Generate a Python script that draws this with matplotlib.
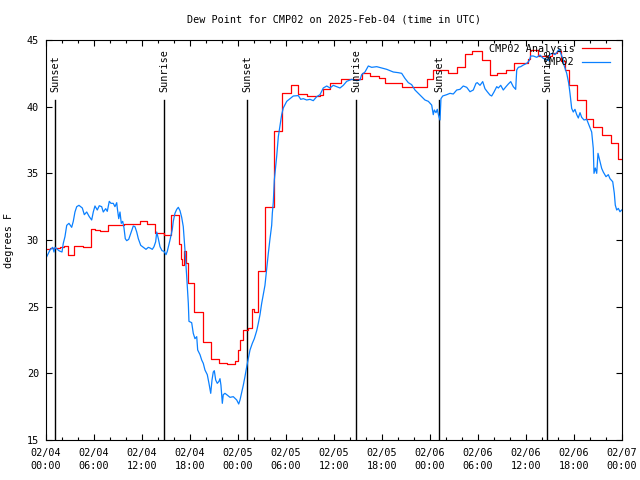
import numpy as np
import matplotlib
matplotlib.use('Agg')
import matplotlib.pyplot as plt

# hours since 02/04 00:00 UTC
analysis_hours = [0.0, 0.5, 1.7, 2.2, 2.7, 3.5, 4.6, 5.6, 6.1, 6.7, 7.7, 9.7, 11.7,
                  12.6, 13.6, 14.7, 15.58, 16.6, 16.9, 17.05, 17.3, 17.55, 17.8,
                  18.53, 19.58, 20.58, 21.58, 22.58, 23.62, 24.0, 24.25, 24.6,
                  25.2, 25.71, 26.0, 26.54, 27.42, 28.5, 29.54, 30.59, 31.54,
                  32.62, 34.25, 34.66, 35.5, 36.84, 39.46, 40.5, 41.66, 42.38,
                  44.46, 46.34, 47.59, 48.34, 50.29, 51.34, 52.38, 53.21, 54.46,
                  55.5, 56.4, 57.5, 58.5, 60.29, 60.5, 61.54, 63.2, 63.9, 64.34,
                  64.87, 65.41, 66.37, 67.5, 68.41, 69.54, 70.59, 71.46, 72.0]
analysis_vals = [29.3, 29.4, 29.5, 29.55, 28.9, 29.55, 29.5, 30.8, 30.73, 30.65,
                 31.1, 31.18, 31.4, 31.2, 30.55, 30.4, 31.9, 29.68, 28.6, 28.1,
                 29.2, 28.25, 26.75, 24.6, 22.37, 21.1, 20.78, 20.67, 20.95,
                 21.75, 22.5, 23.25, 23.42, 24.8, 24.6, 27.7, 32.5, 38.15, 41.0,
                 41.6, 40.95, 40.8, 40.85, 41.35, 41.75, 42.05, 42.5, 42.3, 42.12,
                 41.8, 41.45, 41.5, 42.05, 42.75, 42.5, 43.0, 43.95, 44.2, 43.5,
                 42.4, 42.55, 42.75, 43.25, 43.6, 44.25, 43.8, 44.0, 44.2, 43.4,
                 42.75, 41.6, 40.5, 39.05, 38.45, 37.9, 37.3, 36.1, 36.1]

station_hours = [0.09, 0.5, 0.84, 1.0, 1.12, 1.41, 1.66, 2.0, 2.16, 2.37, 2.59, 2.87,
                 3.21, 3.41, 3.62, 3.84, 4.12, 4.54, 4.79, 5.09, 5.41, 5.71, 5.91,
                 6.12, 6.41, 6.66, 6.96, 7.16, 7.46, 7.66, 7.91, 8.12, 8.41, 8.62,
                 8.84, 8.91, 9.09, 9.25, 9.41, 9.59, 9.75, 9.91, 10.09, 10.34,
                 10.59, 10.91, 11.12, 11.34, 11.54, 11.84, 12.16, 12.5, 12.79,
                 13.0, 13.29, 13.5, 13.71, 13.84, 14.04, 14.25, 14.5, 14.75, 15.0,
                 15.16, 15.5, 15.79, 15.91, 16.12, 16.34, 16.54, 16.75, 16.96,
                 17.16, 17.37, 17.59, 17.79, 17.87, 18.21, 18.41, 18.62, 18.84,
                 18.96, 19.25, 19.46, 19.66, 19.87, 20.16, 20.37, 20.59, 20.75,
                 20.91, 21.04, 21.21, 21.41, 21.62, 21.75, 21.87, 22.04, 22.16,
                 22.37, 22.59, 23.0, 23.41, 23.84, 24.09, 24.25, 24.46, 24.66,
                 24.87, 25.09, 25.29, 25.5, 25.79, 26.04, 26.34, 26.54, 26.75,
                 26.96, 27.16, 27.37, 27.59, 27.79, 28.0, 28.21, 28.29, 28.41,
                 28.54, 28.84, 29.04, 29.25, 29.46, 29.66, 30.09, 30.5, 30.91,
                 31.54, 31.84, 32.16, 32.59, 33.0, 33.41, 33.84, 34.25, 34.66,
                 35.09, 35.5, 35.91, 36.34, 36.75, 37.16, 37.59, 38.21, 38.84,
                 39.25, 39.46, 39.87, 40.29, 40.71, 41.34, 41.96, 42.59, 43.0,
                 43.41, 44.04, 44.46, 44.87, 45.29, 45.71, 46.12, 46.54, 46.96,
                 47.37, 47.79, 48.21, 48.41, 48.54, 48.75, 48.91, 49.09, 49.25,
                 49.37, 49.59, 50.09, 50.5, 50.91, 51.34, 51.75, 52.16, 52.59,
                 53.0, 53.41, 53.75, 53.91, 54.25, 54.59, 54.87, 55.16, 55.5,
                 55.71, 56.0, 56.34, 56.54, 56.84, 57.16, 57.5, 57.79, 58.09,
                 58.41, 58.71, 58.84, 59.04, 59.34, 59.66, 60.09, 60.41, 60.59,
                 60.91, 61.34, 61.75, 62.16, 62.5, 62.79, 63.0, 63.34, 63.62,
                 63.91, 64.16, 64.34, 64.59, 64.75, 65.09, 65.34, 65.5, 65.71,
                 65.91, 66.12, 66.34, 66.54, 66.75, 66.96, 67.25, 67.59, 67.79,
                 68.0, 68.21, 68.41, 68.5, 68.66, 68.84, 69.0, 69.25, 69.46,
                 69.66, 70.0, 70.29, 70.5, 70.84, 71.04, 71.16, 71.34, 71.54,
                 71.75, 71.96]
station_vals = [28.75, 29.25, 29.45, 29.1, 29.45, 29.3, 29.18, 29.1, 29.75, 30.25,
                31.1, 31.25, 30.95, 31.4, 32.1, 32.5, 32.6, 32.4, 31.9, 32.1,
                31.75, 31.5, 32.1, 32.55, 32.25, 32.57, 32.5, 32.1, 32.35, 32.15,
                32.9, 32.75, 32.75, 32.5, 32.8, 32.4, 31.6, 32.1, 31.25, 31.4,
                30.9, 30.1, 29.95, 30.05, 30.5, 31.05, 31.0, 30.6, 30.1, 29.6,
                29.45, 29.3, 29.45, 29.4, 29.3, 29.5, 29.87, 30.6, 30.1, 29.5,
                29.2, 29.15, 28.9, 29.15, 30.0, 30.8, 31.4, 32.0, 32.3, 32.45,
                32.2, 31.7, 31.0, 29.25, 27.25, 25.25, 23.9, 23.8, 23.0, 22.6,
                22.75, 21.75, 21.4, 21.0, 20.75, 20.25, 19.9, 19.25, 18.5, 19.5,
                20.1, 20.2, 19.5, 19.25, 19.4, 19.6, 19.1, 17.75, 18.4, 18.5,
                18.4, 18.2, 18.25, 18.0, 17.7, 18.0, 18.55, 19.1, 19.75, 20.5,
                21.1, 21.75, 22.25, 22.6, 23.2, 23.75, 24.4, 25.25, 25.9, 26.6,
                27.9, 29.0, 30.1, 31.1, 32.0, 32.8, 34.5, 36.3, 37.75, 38.6,
                39.4, 39.9, 40.4, 40.6, 40.8, 40.83, 40.55, 40.6, 40.5, 40.55,
                40.45, 40.75, 40.9, 41.4, 41.55, 41.4, 41.6, 41.5, 41.4, 41.6,
                41.9, 42.05, 41.95, 42.0, 42.4, 42.6, 43.05, 42.95, 43.0, 42.9,
                42.8, 42.7, 42.6, 42.55, 42.5, 42.12, 41.8, 41.65, 41.25, 41.0,
                40.75, 40.5, 40.4, 40.12, 39.4, 39.75, 39.55, 39.8, 39.3, 39.0,
                40.6, 40.8, 40.9, 41.0, 40.95, 41.25, 41.3, 41.55, 41.45, 41.12,
                41.25, 41.75, 41.8, 41.6, 41.88, 41.35, 41.12, 40.87, 40.8, 41.1,
                41.5, 41.4, 41.6, 41.25, 41.5, 41.7, 41.88, 41.5, 41.3, 42.75,
                42.95, 43.0, 43.12, 43.25, 43.45, 43.8, 43.8, 43.7, 43.87, 43.62,
                43.55, 43.45, 43.95, 44.0, 43.9, 44.12, 44.3, 44.0, 43.62, 43.12,
                42.5, 41.75, 41.0, 39.87, 39.6, 39.8, 39.4, 39.15, 39.55, 39.2,
                39.0, 39.05, 38.75, 38.45, 38.1, 36.87, 35.0, 35.4, 35.0, 36.5,
                35.9, 35.37, 35.1, 34.75, 34.9, 34.6, 34.37, 33.5, 32.62, 32.25,
                32.37, 32.12, 32.25]

sun_hours = [1.16, 14.79, 25.16, 38.75, 49.16, 62.66]
sun_labels = ['Sunset', 'Sunrise', 'Sunset', 'Sunrise', 'Sunset', 'Sunrise']

tick_hours = list(range(0, 73, 6))
tick_labels = ['02/04\n00:00', '02/04\n06:00', '02/04\n12:00', '02/04\n18:00',
               '02/05\n00:00', '02/05\n06:00', '02/05\n12:00', '02/05\n18:00',
               '02/06\n00:00', '02/06\n06:00', '02/06\n12:00', '02/06\n18:00',
               '02/07\n00:00']

FONT = 'DejaVu Sans Mono'
FS = 7.3
plt.rcParams['font.family'] = FONT
plt.rcParams['font.size'] = FS

fig = plt.figure(figsize=(6.4, 4.8), dpi=100)
ax = fig.add_axes([46 / 640, 1 - 440 / 480, 576 / 640, 400 / 480])

for h, lab in zip(sun_hours, sun_labels):
    ax.plot([h, h], [15, 40.5], color='black', lw=1.0)
    ax.text(h, 41.1, lab, rotation=90, ha='center', va='bottom', fontsize=FS)

ax.plot(analysis_hours, analysis_vals, drawstyle='steps-post', color='#ff0000',
        lw=0.9, label='CMP02 Analysis')
ax.plot(station_hours, station_vals, color='#0a80ff', lw=0.9, label='CMP02')

ax.set_xlim(0, 72)
ax.set_ylim(15, 45)
ax.set_xticks(tick_hours)
ax.set_xticklabels(tick_labels, fontsize=FS, linespacing=1.3)
ax.set_xticks(np.arange(0, 73, 2), minor=True)
ax.set_yticks(range(15, 46, 5))
ax.tick_params(which='both', direction='in', top=True, right=True, width=0.8,
               labelsize=FS)
ax.tick_params(axis='x', pad=6)
ax.tick_params(axis='y', pad=5)
ax.tick_params(which='major', length=4.5)
ax.tick_params(which='minor', length=2.5)
for s in ax.spines.values():
    s.set_linewidth(0.8)

ax.set_ylabel('degrees F', fontsize=FS, labelpad=9)
fig.text(334 / 640, 1 - 20 / 480, 'Dew Point for CMP02 on 2025-Feb-04 (time in UTC)',
         ha='center', va='center', fontsize=FS)

ax.legend(loc='upper right', bbox_to_anchor=(0.979, 0.99), frameon=False,
          markerfirst=False, fontsize=FS, handlelength=2.8, handletextpad=0.7,
          labelspacing=0.33, borderaxespad=0, borderpad=0)

fig.savefig('out.png', dpi=100)
